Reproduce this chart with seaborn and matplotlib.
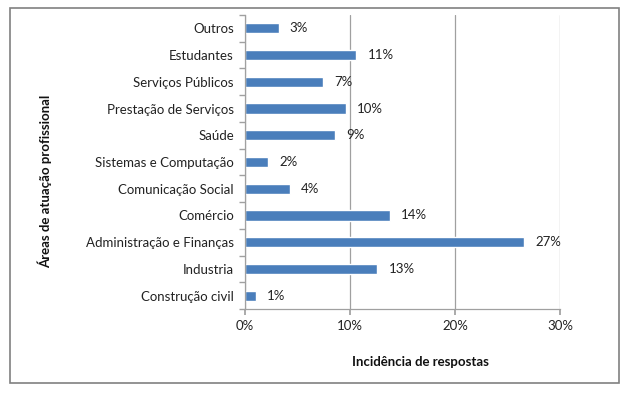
import matplotlib
matplotlib.use("Agg")
import matplotlib.pyplot as plt
import seaborn as sns
import pandas as pd
from matplotlib.patches import Rectangle

categories = ["Outros", "Estudantes", "Serviços Públicos", "Prestação de Serviços",
              "Saúde", "Sistemas e Computação", "Comunicação Social", "Comércio",
              "Administração e Finanças", "Industria", "Construção civil"]
values = [3.2, 10.6, 7.4, 9.6, 8.6, 2.2, 4.3, 13.8, 26.6, 12.6, 1.05]
value_labels = ["3%", "11%", "7%", "10%", "9%", "2%", "4%", "14%", "27%", "13%", "1%"]
x_ticks = [0, 10, 20, 30]
x_tick_labels = ["0%", "10%", "20%", "30%"]

sns.set_theme(style="white")
plt.rcParams["font.family"] = ["Lato", "DejaVu Sans"]

df = pd.DataFrame({"cat": categories, "val": values})

fig = plt.figure(figsize=(6.25, 3.93), dpi=100)
ax = fig.add_axes([245/625, 1 - 309/393, (560-245)/625, (309-15)/393])

sns.barplot(data=df, y="cat", x="val", orient="h", color="#4A7EBB",
            width=0.38, saturation=1, ax=ax, order=categories)

ax.set_xlim(0, 30)
ax.set_ylim(len(categories) - 0.5, -0.5)
ax.set_xticks(x_ticks)
ax.set_xticklabels(x_tick_labels, fontsize=9.5, color="#222222")
ax.set_yticks(range(len(categories)))
ax.set_yticklabels(categories, fontsize=9.5, color="#222222")
ax.tick_params(axis="y", length=0, pad=8)
ax.tick_params(axis="x", length=4, color="#A0A0A0", pad=4, direction="out", bottom=True)
ax.set_yticks([i - 0.5 for i in range(len(categories) + 1)], minor=True)
ax.tick_params(axis="y", which="minor", length=4, color="#A0A0A0", direction="out", left=True)

ax.xaxis.grid(True, color="#A0A0A0", linewidth=0.9)
ax.yaxis.grid(False)
ax.set_axisbelow(True)
for s in ["top", "right"]:
    ax.spines[s].set_visible(False)
for s in ["left", "bottom"]:
    ax.spines[s].set_color("#A0A0A0")
    ax.spines[s].set_linewidth(0.9)

ax.set_xlabel("")
ax.set_ylabel("")

for cont in ax.containers:
    ax.bar_label(cont, labels=value_labels, padding=8, fontsize=9.5, color="#222222")

fig.text(420/625, 1 - 362/393, "Incidência de respostas", ha="center", va="center",
         fontsize=9.5, fontweight="bold", color="#111111")
fig.text(45/625, 1 - 181/393, "Áreas de atuação profissional", ha="center", va="center",
         rotation=90, fontsize=9.5, fontweight="bold", color="#111111")

fig.patches.append(Rectangle((10/625, 1 - 383/393), (619-10)/625, (383-8)/393,
                             transform=fig.transFigure, fill=False,
                             edgecolor="#808080", linewidth=1.2))

fig.savefig("out.png", dpi=100)
